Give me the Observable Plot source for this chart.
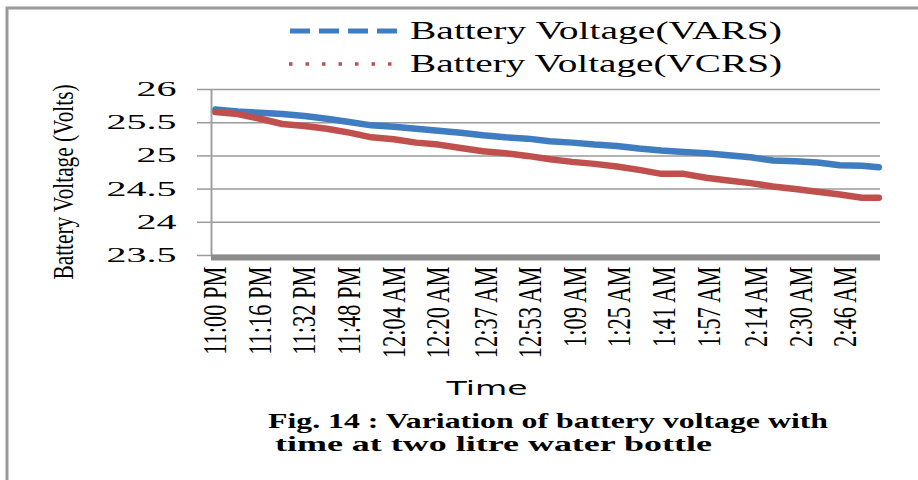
<!DOCTYPE html>
<html><head><meta charset="utf-8">
<script src="https://cdn.jsdelivr.net/npm/d3@7"></script>
<script src="https://cdn.jsdelivr.net/npm/@observablehq/plot@0.6"></script>
<style>
body{margin:0;background:#fff;}
#chart{position:relative;width:918px;height:480px;overflow:hidden;background:#fff;}
</style>
</head><body><div id="chart"></div>
<script>
// minutes after 11:00 PM
const minutes = [0,8,16,24,32,40,48,56,64,72,80,88,96,104,112,120,128,136,144,152,160,168,176,184,192,200,208,216,224,232,238];
const varsVolts = [25.70,25.67,25.65,25.63,25.60,25.56,25.51,25.46,25.44,25.41,25.38,25.35,25.31,25.28,25.26,25.22,25.20,25.17,25.15,25.11,25.08,25.06,25.04,25.01,24.98,24.93,24.92,24.90,24.86,24.85,24.83];
const vcrsVolts = [25.66,25.63,25.56,25.48,25.45,25.41,25.35,25.28,25.25,25.20,25.17,25.12,25.07,25.04,25.00,24.95,24.91,24.88,24.84,24.79,24.73,24.73,24.67,24.63,24.59,24.54,24.50,24.46,24.42,24.37,24.37];
const tickMinutes = [0,16,32,48,64,80,97,113,129,145,161,177,194,210,226];
const tickLabels = ["11:00 PM","11:16 PM","11:32 PM","11:48 PM","12:04 AM","12:20 AM","12:37 AM","12:53 AM","1:09 AM","1:25 AM","1:41 AM","1:57 AM","2:14 AM","2:30 AM","2:46 AM"];
const yTicks = [23.5,24,24.5,25,25.5,26];
const seriesNames = ["Battery Voltage(VARS)","Battery Voltage(VCRS)"];
const seriesColors = ["#3f7cc0","#c0504d"];
const xDomain = [-1.4, 238.6];
const yDomain = [23.5, 26];
const yTitle = "Battery Voltage (Volts)";
const xTitle = "Time";
const captionLines = ["Fig. 14 : Variation of battery voltage with","time at two litre water bottle"];

const rows = minutes.flatMap((m,i)=>[
  {m, v: varsVolts[i], s: seriesNames[0]},
  {m, v: vcrsVolts[i], s: seriesNames[1]}
]);

const serif = "'Liberation Serif','Times New Roman',serif";

const plot = Plot.plot({
  width:918, height:480,
  marginLeft:211, marginRight:38, marginTop:89, marginBottom:225,
  style:{fontFamily:serif, background:"#fff", color:"#000"},
  x:{domain:xDomain},
  y:{domain:yDomain},
  color:{domain:seriesNames, range:seriesColors},
  marks:[
    Plot.gridY(yTicks, {stroke:"#9a9a9a", strokeOpacity:1, strokeWidth:1.5}),
    Plot.axisY(yTicks, {tickSize:14, tickPadding:21, stroke:"#9a9a9a", strokeWidth:1.5, fontSize:20, tickFormat:d=>String(d), label:null}),
    Plot.axisX(tickMinutes, {tickSize:0, tickPadding:11, tickRotate:-90, fontSize:34, tickFormat:d=>tickLabels[tickMinutes.indexOf(d)], label:null}),
    Plot.ruleX([xDomain[0]], {stroke:"#a0a0a0", strokeWidth:2}),
    Plot.line(rows, {x:"m", y:"v", z:"s", stroke:"s", strokeWidth:6.5}),
    Plot.ruleY([yDomain[0]], {stroke:"#8c8c8c", strokeWidth:6, dy:2})
  ]
});
document.getElementById("chart").append(plot);
const svg = d3.select(plot);

function stretch(sel, factor){
  sel.each(function(){
    const n = this.getComputedTextLength();
    this.setAttribute("textLength", n*factor);
    this.setAttribute("lengthAdjust","spacingAndGlyphs");
  });
}
stretch(svg.selectAll('g[aria-label="y-axis tick label"] text'), 2.0);
stretch(svg.selectAll('g[aria-label="x-axis tick label"] text'), 0.66);

// border
svg.append("path").attr("d","M7,480V8H918").attr("fill","none").attr("stroke","#9a9a9a").attr("stroke-width",3);

// y title
svg.append("text").attr("transform","translate(62,182) rotate(-90)")
  .attr("text-anchor","middle").attr("dominant-baseline","central")
  .attr("font-family",serif).attr("font-size",30).attr("fill","#000")
  .attr("textLength",195).attr("lengthAdjust","spacingAndGlyphs").text(yTitle);

// legend
const lg = svg.append("g");
lg.append("line").attr("x1",290).attr("x2",401).attr("y1",31).attr("y2",31)
  .attr("stroke",seriesColors[0]).attr("stroke-width",5).attr("stroke-dasharray","20,9");
lg.append("line").attr("x1",289).attr("x2",394).attr("y1",64).attr("y2",64)
  .attr("stroke",seriesColors[1]).attr("stroke-width",3.5).attr("stroke-dasharray","3.5,13");
seriesNames.forEach((n,i)=>{
  lg.append("text").attr("x",410).attr("y",39+i*33).attr("text-anchor","start")
    .attr("font-family",serif).attr("font-size",25).attr("fill","#000")
    .attr("textLength",372).attr("lengthAdjust","spacingAndGlyphs").text(n);
});

// x title
svg.append("text").attr("x",487).attr("y",395).attr("text-anchor","middle")
  .attr("font-family","'DejaVu Sans',sans-serif").attr("font-size",20).attr("fill","#000")
  .attr("textLength",81).attr("lengthAdjust","spacingAndGlyphs").text(xTitle);

// caption
const capX = [268,275], capY = [428,451], capW = [560,437];
captionLines.forEach((t,i)=>{
  svg.append("text").attr("x",capX[i]).attr("y",capY[i]).attr("text-anchor","start")
    .attr("font-family",serif).attr("font-weight","bold").attr("font-size",22).attr("fill","#000")
    .attr("textLength",capW[i]).attr("lengthAdjust","spacingAndGlyphs").text(t);
});
</script>
</body></html>
